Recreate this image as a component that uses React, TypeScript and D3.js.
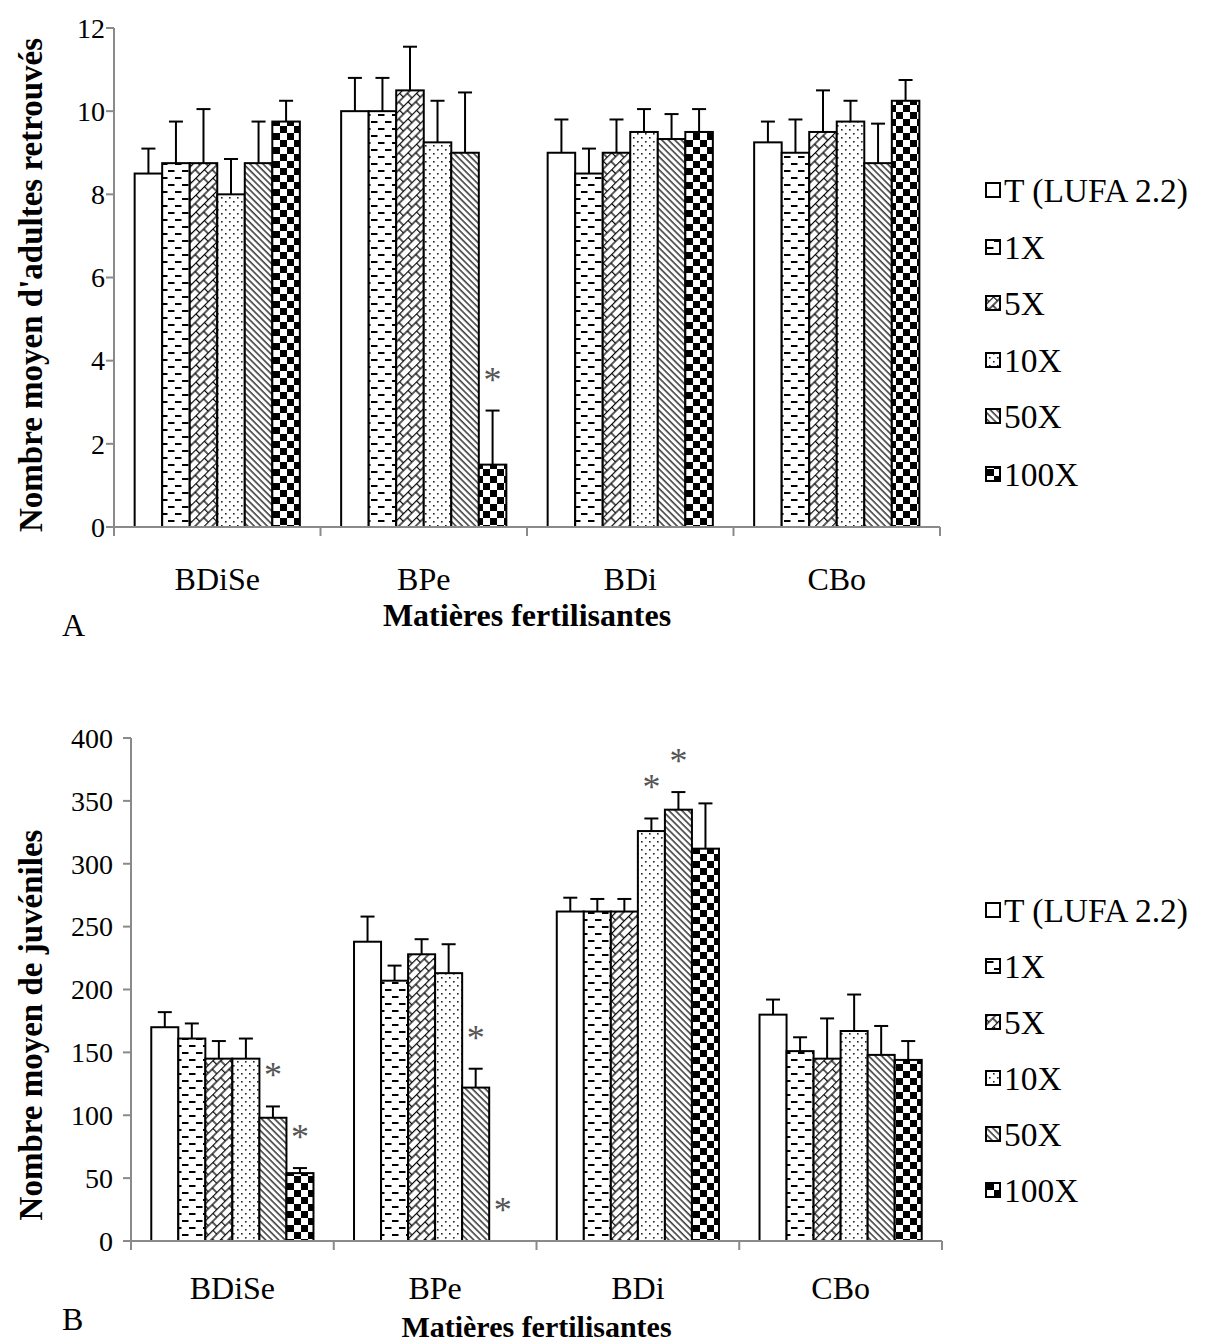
import React from "react";
import * as d3 from "d3";

const categories = ["BDiSe", "BPe", "BDi", "CBo"];
const series = ["T (LUFA 2.2)", "1X", "5X", "10X", "50X", "100X"];
const patternIds = ["pT", "p1", "p5", "p10", "p50", "p100"];

// Panel A: adults
const adultsMean = [
  [8.5, 10, 9, 9.25],
  [8.75, 10, 8.5, 9],
  [8.75, 10.5, 9, 9.5],
  [8.0, 9.25, 9.5, 9.75],
  [8.75, 9.0, 9.33, 8.75],
  [9.75, 1.5, 9.5, 10.25],
];
const adultsErr = [
  [0.6, 0.8, 0.8, 0.5],
  [1.0, 0.8, 0.6, 0.8],
  [1.3, 1.05, 0.8, 1.0],
  [0.85, 1.0, 0.55, 0.5],
  [1.0, 1.45, 0.6, 0.95],
  [0.5, 1.3, 0.55, 0.5],
];
const adultsStars = [["BPe", "100X"]];
const adultsTicks = [0, 2, 4, 6, 8, 10, 12];

// Panel B: juveniles
const juvMean = [
  [170, 238, 262, 180],
  [161, 207, 262, 151],
  [145, 228, 262, 145],
  [145, 213, 326, 167],
  [98, 122, 343, 148],
  [54, 0, 312, 144],
];
const juvErr = [
  [12, 20, 11, 12],
  [12, 12, 10, 11],
  [14, 12, 10, 32],
  [16, 23, 10, 29],
  [9, 15, 14, 23],
  [4, 0, 36, 15],
];
const juvStars = [
  ["BDiSe", "50X"],
  ["BDiSe", "100X"],
  ["BPe", "50X"],
  ["BPe", "100X"],
  ["BDi", "10X"],
  ["BDi", "50X"],
];
const juvTicks = [0, 50, 100, 150, 200, 250, 300, 350, 400];

const SERIF = "'Liberation Serif', 'Times New Roman', serif";
const AXIS = "#8a8a8a";

type PanelProps = {
  x0: number; x1: number; yTop: number; yBottom: number;
  yMax: number; ticks: number[]; means: number[][]; errs: number[][];
  stars: string[][]; yTitle: string; letter: string; labelGap: number;
  yTitleCenter: number; titleSize: number;
  catY: number; titleY: number; letterY: number; legendY: number[];
};

function Panel(p: PanelProps) {
  const x = d3.scaleBand().domain(categories).range([p.x0, p.x1]).paddingInner(0).paddingOuter(0);
  const groupPad = x.bandwidth() * 0.1;
  const sub = d3.scaleBand().domain(series).range([groupPad, x.bandwidth() - groupPad]);
  const y = d3.scaleLinear().domain([0, p.yMax]).range([p.yBottom, p.yTop]);
  const bw = sub.bandwidth();
  const starSet = new Set(p.stars.map((s) => s[0] + "|" + s[1]));
  return (
    <g>
      {/* y axis */}
      <line x1={p.x0} x2={p.x0} y1={p.yTop} y2={p.yBottom} stroke={AXIS} strokeWidth={2} />
      {p.ticks.map((t) => (
        <g key={t}>
          <line x1={p.x0 - 8} x2={p.x0} y1={y(t)} y2={y(t)} stroke={AXIS} strokeWidth={2} />
          <text x={p.x0 - p.labelGap} y={y(t)} dy="0.35em" textAnchor="end" fontFamily={SERIF} fontSize={28} fill="#000">
            {t}
          </text>
        </g>
      ))}
      {/* bars */}
      {series.map((s, si) =>
        categories.map((c, ci) => {
          const v = p.means[si][ci];
          const e = p.errs[si][ci];
          const bx = (x(c) as number) + (sub(s) as number);
          const cx = bx + bw / 2;
          return (
            <g key={s + c}>
              {v > 0 && (
                <rect x={bx} y={y(v)} width={bw} height={y(0) - y(v)} fill={`url(#${patternIds[si]})`} stroke="#000" strokeWidth={2} />
              )}
              {e > 0 && (
                <g stroke="#000" strokeWidth={2}>
                  <line x1={cx} x2={cx} y1={y(v)} y2={y(v + e)} />
                  <line x1={cx - 7} x2={cx + 7} y1={y(v + e)} y2={y(v + e)} />
                </g>
              )}
              {starSet.has(c + "|" + s) && (
                <text x={cx} y={y(v + e) - 37 + 18} textAnchor="middle" fontFamily={SERIF} fontSize={36} fill="#555">
                  *
                </text>
              )}
            </g>
          );
        })
      )}
      {/* x axis */}
      <line x1={p.x0} x2={p.x1} y1={p.yBottom} y2={p.yBottom} stroke={AXIS} strokeWidth={2} />
      {categories.map((c) => (
        <line key={"t" + c} x1={(x(c) as number) + x.bandwidth()} x2={(x(c) as number) + x.bandwidth()} y1={p.yBottom} y2={p.yBottom + 9} stroke={AXIS} strokeWidth={2} />
      ))}
      <line x1={p.x0} x2={p.x0} y1={p.yBottom} y2={p.yBottom + 9} stroke={AXIS} strokeWidth={2} />
      {categories.map((c) => (
        <text key={"l" + c} x={(x(c) as number) + x.bandwidth() / 2} y={p.catY} textAnchor="middle" fontFamily={SERIF} fontSize={32}>
          {c}
        </text>
      ))}
      <text x={(p.x0 + p.x1) / 2} y={p.titleY} textAnchor="middle" fontFamily={SERIF} fontSize={p.titleSize} fontWeight="bold">
        Matières fertilisantes
      </text>
      <text x={62} y={p.letterY} fontFamily={SERIF} fontSize={32}>
        {p.letter}
      </text>
      <text
        transform={`translate(30,${p.yTitleCenter}) rotate(-90)`}
        textAnchor="middle"
        dy="0.35em"
        fontFamily={SERIF}
        fontSize={33}
        fontWeight="bold"
      >
        {p.yTitle}
      </text>
      {/* legend */}
      {series.map((s, si) => (
        <g key={"lg" + s}>
          <rect x={986} y={p.legendY[si] - 7} width={14} height={14} fill={`url(#${patternIds[si]})`} stroke="#000" strokeWidth={2} />
          <text x={1004} y={p.legendY[si]} dy="0.35em" fontFamily={SERIF} fontSize={33.5}>
            {s}
          </text>
        </g>
      ))}
    </g>
  );
}

function Patterns() {
  return (
    <>
      <pattern id="pT" width={10} height={10} patternUnits="userSpaceOnUse">
        <rect width={10} height={10} fill="#fff" />
      </pattern>
      <pattern id="p1" width={14} height={14} patternUnits="userSpaceOnUse">
        <rect width={14} height={14} fill="#fff" />
        <rect x={0} y={2} width={6.5} height={2} fill="#000" />
        <rect x={7} y={9} width={6.5} height={2} fill="#000" />
      </pattern>
      <pattern id="p5" width={12} height={12} patternUnits="userSpaceOnUse" patternTransform="rotate(-45)">
        <rect width={12} height={12} fill="#fff" />
        <g stroke="#000" strokeWidth={1.3} fill="none">
          <line x1={0} x2={12} y1={0.5} y2={0.5} />
          <line x1={0} x2={12} y1={6} y2={6} />
          <line x1={0.5} x2={0.5} y1={0} y2={6} />
          <line x1={6} x2={6} y1={6} y2={12} />
        </g>
      </pattern>
      <pattern id="p10" width={8} height={8} patternUnits="userSpaceOnUse">
        <rect width={8} height={8} fill="#fff" />
        <rect x={1} y={1} width={1.6} height={1.6} fill="#222" />
        <rect x={5} y={5} width={1.6} height={1.6} fill="#222" />
      </pattern>
      <pattern id="p50" width={4.6} height={4.6} patternUnits="userSpaceOnUse" patternTransform="rotate(-45)">
        <rect width={4.6} height={4.6} fill="#fff" />
        <line x1={1} x2={1} y1={0} y2={4.6} stroke="#000" strokeWidth={1.2} />
      </pattern>
      <pattern id="p100" width={14} height={14} patternUnits="userSpaceOnUse">
        <rect width={14} height={14} fill="#fff" />
        <rect x={0} y={0} width={7} height={7} fill="#000" />
        <rect x={7} y={7} width={7} height={7} fill="#000" />
      </pattern>
    </>
  );
}

export default function App() {
  return (
    <svg width={1211} height={1344} style={{ position: "absolute", left: 0, top: 0, background: "#fff" }}>
      <defs>
        <Patterns />
      </defs>
      <rect width={1211} height={1344} fill="#fff" />
      <Panel
        x0={114} x1={940} yTop={28} yBottom={527} yMax={12} ticks={adultsTicks}
        means={adultsMean} errs={adultsErr} stars={adultsStars}
        yTitle="Nombre moyen d'adultes retrouvés" letter="A" labelGap={9}
        yTitleCenter={285} titleSize={32}
        catY={590} titleY={626} letterY={636}
        legendY={[190, 247, 303, 360, 416, 474]}
      />
      <Panel
        x0={131} x1={942} yTop={738} yBottom={1241} yMax={400} ticks={juvTicks}
        means={juvMean} errs={juvErr} stars={juvStars}
        yTitle="Nombre moyen de juvéniles" letter="B" labelGap={18}
        yTitleCenter={1025} titleSize={30}
        catY={1299} titleY={1337} letterY={1330}
        legendY={[910, 966, 1022, 1078, 1134, 1190]}
      />
    </svg>
  );
}
